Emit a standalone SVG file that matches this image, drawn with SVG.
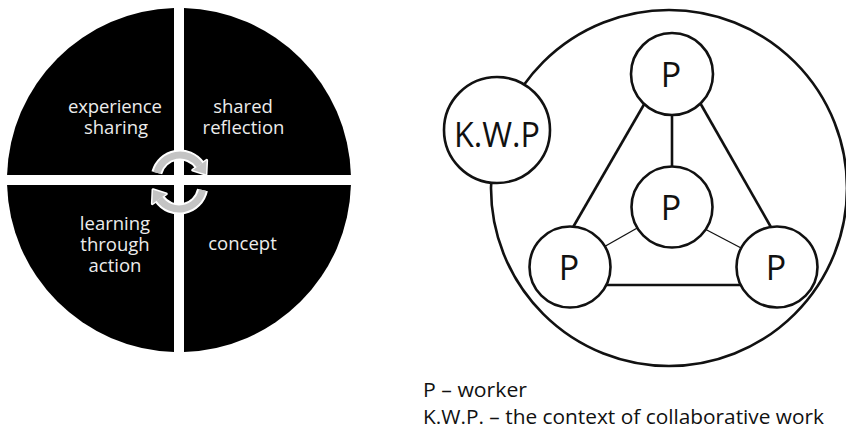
<svg xmlns="http://www.w3.org/2000/svg" width="846" height="431" viewBox="0 0 846 431">
<style>
.q{fill:#000}
.qt{fill:#ececec;font-family:"Open Sans","Noto Sans",sans-serif;font-size:18.5px;text-anchor:middle}
.node{fill:#fff;stroke:#111;stroke-width:2.6}
.nt{fill:#111;font-family:"Open Sans","Noto Sans",sans-serif;font-size:34px;text-anchor:middle}
.edge{stroke:#111;stroke-width:2.6;fill:none}
.thin{stroke:#111;stroke-width:1.3;fill:none}
.leg{fill:#111;font-family:"Open Sans","Noto Sans",sans-serif;font-size:20px}
.arcw{fill:none;stroke:#fff;stroke-width:11}
.arcg{fill:none;stroke:#c4c4c4;stroke-width:7}
.hw{fill:#fff;stroke:#fff;stroke-width:3;stroke-linejoin:round}
.hg{fill:#c4c4c4}
</style>
<rect width="846" height="431" fill="#fff"/>
<g id="cycle">
  <g id="q-experience">
    <path class="q" d="M174,175 L7.07,175 A172,172 0 0 1 174,8.07 Z"/>
    <text class="qt" x="115" y="113" textLength="94">experience</text>
    <text class="qt" x="116" y="134">sharing</text>
  </g>
  <g id="q-reflection">
    <path class="q" d="M184,175 L184,8.07 A172,172 0 0 1 350.93,175 Z"/>
    <text class="qt" x="243" y="113">shared</text>
    <text class="qt" x="243.5" y="134">reflection</text>
  </g>
  <g id="q-concept">
    <path class="q" d="M184,185 L350.93,185 A172,172 0 0 1 184,351.93 Z"/>
    <text class="qt" x="242.5" y="250">concept</text>
  </g>
  <g id="q-learning">
    <path class="q" d="M174,185 L174,351.93 A172,172 0 0 1 7.07,185 Z"/>
    <text class="qt" x="115" y="230">learning</text>
    <text class="qt" x="115" y="251">through</text>
    <text class="qt" x="115" y="272">action</text>
  </g>
  <g id="cycle-arrows">
    <path class="arcw" d="M156.82,172.79 A24,24 0 0 1 199.66,165.23"/>
    <polygon class="hw" points="206.62,160.36 192.70,170.11 205.97,174.24"/>
    <path class="arcw" d="M202.48,189.99 A24,24 0 0 1 159.34,198.77"/>
    <polygon class="hw" points="152.38,203.64 166.30,193.89 153.03,189.76"/>
    <path class="arcg" d="M156.82,172.79 A24,24 0 0 1 199.66,165.23"/>
    <polygon class="hg" points="206.62,160.36 192.70,170.11 205.97,174.24"/>
    <path class="arcg" d="M202.48,189.99 A24,24 0 0 1 159.34,198.77"/>
    <polygon class="hg" points="152.38,203.64 166.30,193.89 153.03,189.76"/>
  </g>
</g>
<g id="context-boundary">
  <circle cx="669" cy="188" r="178" fill="none" stroke="#111" stroke-width="2.6"/>
</g>
<g id="connectors">
  <line class="edge" x1="672" y1="110" x2="672" y2="170"/>
  <line class="edge" x1="646" y1="101" x2="572" y2="229"/>
  <line class="edge" x1="699" y1="101" x2="772" y2="229"/>
  <line class="edge" x1="603" y1="285" x2="742" y2="285"/>
  <line class="thin" x1="639" y1="227" x2="602" y2="248"/>
  <line class="thin" x1="703" y1="228" x2="743" y2="249"/>
</g>
<g id="node-kwp">
  <circle class="node" cx="497" cy="130" r="53"/>
  <text class="nt" x="497" y="147" font-size="35" textLength="86" lengthAdjust="spacingAndGlyphs">K.W.P</text>
</g>
<g id="node-p-top">
  <circle class="node" cx="672" cy="74" r="41"/>
  <text class="nt" x="671" y="87">P</text>
</g>
<g id="node-p-center">
  <circle class="node" cx="672" cy="207" r="40.5"/>
  <text class="nt" x="671" y="220">P</text>
</g>
<g id="node-p-left">
  <circle class="node" cx="570" cy="267" r="40.5"/>
  <text class="nt" x="569" y="280">P</text>
</g>
<g id="node-p-right">
  <circle class="node" cx="777" cy="267" r="40.5"/>
  <text class="nt" x="776" y="280">P</text>
</g>
<g id="legend">
  <text class="leg" x="423" y="397" textLength="104" lengthAdjust="spacingAndGlyphs">P – worker</text>
  <text class="leg" x="423" y="424" textLength="401" lengthAdjust="spacingAndGlyphs">K.W.P. – the context of collaborative work</text>
</g>
</svg>
